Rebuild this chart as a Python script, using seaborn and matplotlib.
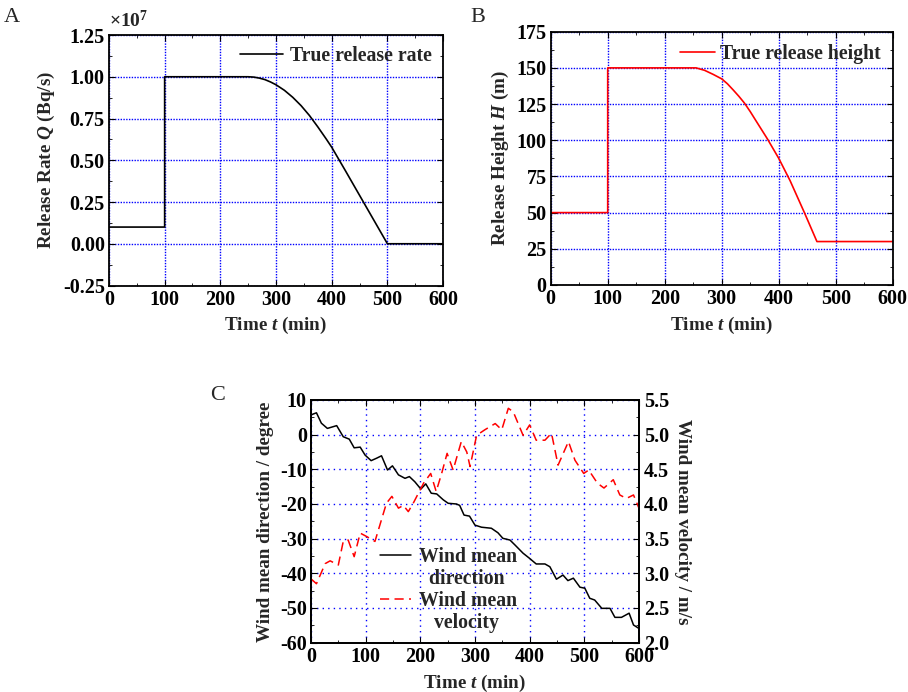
import pandas as pd
import matplotlib
matplotlib.use("Agg")
import matplotlib.pyplot as plt
from matplotlib.lines import Line2D
from matplotlib.ticker import MultipleLocator, FormatStrFormatter
import seaborn as sns

"""## Source term and wind data"""

# A: true release rate, in units of 1e7 Bq/s
rate_t = [0, 100, 100, 250, 260, 270, 280, 290, 300, 315, 330, 345, 360, 375, 390, 400, 425, 450, 475, 500, 600]
rate_q = [0.10, 0.10, 1.00, 1.00, 0.998, 0.992, 0.983, 0.969, 0.952, 0.919, 0.877, 0.827, 0.768, 0.700, 0.628,
          0.578, 0.435, 0.290, 0.145, 0.0, 0.0]

# B: true release height (m)
height_t = [0, 100, 100, 255, 270, 285, 300, 310, 320, 330, 340, 350, 360, 380, 400, 420, 445, 467, 600]
height_h = [50, 50, 150, 150, 148.3, 145.5, 142.4, 139.0, 134.8, 130.4, 125.6, 119.8, 113.5, 101.0, 87.5,
            72.0, 50.0, 30, 30]

# C: wind mean direction (degree) and wind mean velocity (m/s)
dir_t = [0, 10, 19, 30, 47, 59, 70, 79, 90, 99, 110, 120, 129, 140, 149, 160, 172, 180, 190, 201,
         210, 220, 230, 242, 251, 266, 272, 280, 290, 300, 312, 330, 342, 351, 364, 373, 388, 400, 412, 428,
         437, 449, 461, 470, 480, 492, 501, 510, 519, 532, 547, 556, 568, 582, 590, 600]
dir_deg = [5.7, 6.3, 3.3, 1.8, 2.6, -0.6, -1.3, -3.8, -3.6, -5.9, -7.5, -6.8, -6.1, -10.2, -9.0, -11.6, -12.6,
           -12.1, -13.6, -15.7, -14.2, -16.9, -17.1, -18.8, -19.8, -20.0, -20.4, -23.2, -23.5, -26.1, -26.7,
           -27.0, -28.3, -29.9, -30.4, -31.8, -34.2, -35.7, -37.3, -37.3, -38.1, -41.7, -40.5, -42.1, -41.4,
           -44.0, -44.3, -47.2, -47.7, -50.1, -50.1, -52.7, -52.7, -51.5, -54.9, -55.9]

vel_t = [0, 10, 26, 35, 50, 59, 68, 79, 90, 102, 117, 138, 148, 160, 169, 178, 187, 206, 219, 229,
         239, 249, 260, 275, 285, 291, 303, 318, 337, 349, 361, 370, 388, 400, 412, 428, 440, 452, 471, 483,
         499, 508, 524, 536, 553, 565, 577, 590, 600]
vel_ms = [2.92, 2.85, 3.14, 3.18, 3.12, 3.46, 3.48, 3.24, 3.58, 3.53, 3.46, 4.01, 4.11, 3.94, 3.98, 3.89,
          4.01, 4.30, 4.44, 4.18, 4.44, 4.73, 4.49, 4.90, 4.75, 4.54, 4.99, 5.07, 5.16, 5.07, 5.38, 5.33,
          4.99, 5.14, 4.92, 4.92, 5.02, 4.56, 4.90, 4.63, 4.44, 4.49, 4.30, 4.23, 4.35, 4.13, 4.08, 4.13, 3.94]

df_rate = pd.DataFrame({"t": rate_t, "q": rate_q})
df_height = pd.DataFrame({"t": height_t, "h": height_h})
df_dir = pd.DataFrame({"t": dir_t, "d": dir_deg})
df_vel = pd.DataFrame({"t": vel_t, "v": vel_ms})

sns.set_style("ticks")
plt.rcParams.update({
    "font.family": ["Liberation Serif", "DejaVu Serif"],
    "font.weight": "bold",
    "axes.labelweight": "bold",
    "axes.unicode_minus": False,
    "mathtext.fontset": "custom",
    "mathtext.rm": "Liberation Serif",
    "mathtext.it": "Liberation Serif:italic:bold",
    "mathtext.bf": "Liberation Serif:bold",
    "axes.linewidth": 1.3,
    "axes.edgecolor": "black",
    "xtick.direction": "in",
    "ytick.direction": "in",
    "xtick.major.size": 4.5,
    "ytick.major.size": 4.5,
    "xtick.minor.size": 2.5,
    "ytick.minor.size": 2.5,
    "xtick.color": "black",
    "ytick.color": "black",
})

TICK_FS = 14.5
LABEL_FS = 13.8
LEG_FS = 14.2


def style_axes(ax, xminor, ymajor, yminor, fmt, grid_ls):
    ax.set_xlim(0, 600)
    ax.xaxis.set_major_locator(MultipleLocator(100))
    ax.xaxis.set_minor_locator(MultipleLocator(xminor))
    ax.yaxis.set_major_locator(MultipleLocator(ymajor))
    ax.yaxis.set_minor_locator(MultipleLocator(yminor))
    ax.yaxis.set_major_formatter(FormatStrFormatter(fmt))
    ax.tick_params(which="both", top=True, right=True, labelsize=TICK_FS)
    ax.tick_params(which="major", pad=3)
    for lab in ax.get_xticklabels() + ax.get_yticklabels():
        lab.set_fontweight("bold")
    ax.grid(True, which="major", color="blue", linestyle=grid_ls, linewidth=1.0)
    ax.set_axisbelow(True)
    for s in ax.spines.values():
        s.set_visible(True)
        s.set_color("black")


fig = plt.figure(figsize=(9.08, 6.92), dpi=100)

# Panel A
axA = fig.add_axes([0.120, 0.5874, 0.368, 0.362])
sns.lineplot(data=df_rate, x="t", y="q", ax=axA, color="black", linewidth=1.2,
             estimator=None, sort=False, label="True release rate")
axA.set_ylim(-0.25, 1.25)
style_axes(axA, 50, 0.25, 0.125, "%.2f", (0, (1, 1)))
axA.set_xlabel("Time $t$ (min)", fontsize=LABEL_FS)
axA.set_ylabel("Release Rate $Q$ (Bq/s)", fontsize=LABEL_FS)
axA.legend(loc="upper right", frameon=False, handlelength=2.2, handletextpad=0.35,
           borderaxespad=0.15, prop={"weight": "bold", "size": LEG_FS})
axA.text(0.0, 1.015, r"$\times10^{7}$", transform=axA.transAxes, fontsize=14,
         fontweight="normal", ha="left", va="bottom")
fig.text(12 / 908, 1 - 18 / 692, "A", fontsize=16, fontweight="normal", ha="center", va="center")

# Panel B
axB = fig.add_axes([0.6065, 0.5882, 0.3767, 0.366])
sns.lineplot(data=df_height, x="t", y="h", ax=axB, color="red", linewidth=1.2,
             estimator=None, sort=False, label="True release height")
axB.set_ylim(0, 175)
style_axes(axB, 50, 25, 12.5, "%d", (0, (1, 1)))
axB.set_xlabel("Time $t$ (min)", fontsize=LABEL_FS)
axB.set_ylabel("Release Height $H$ (m)", fontsize=LABEL_FS)
axB.legend(loc="upper right", frameon=False, handlelength=1.8, handletextpad=0.25,
           borderaxespad=0.2, prop={"weight": "bold", "size": LEG_FS})
fig.text(478 / 908, 1 - 18 / 692, "B", fontsize=16, fontweight="normal", ha="center", va="center")

# Panel C
axC = fig.add_axes([0.3425, 0.0713, 0.3612, 0.3507])
sns.lineplot(data=df_dir, x="t", y="d", ax=axC, color="black", linewidth=1.1,
             estimator=None, sort=False, label="Wind mean direction")
axC.set_ylim(-60, 10)
style_axes(axC, 50, 10, 5, "%d", (0, (1, 3)))
axC.tick_params(which="both", right=False)
axC.set_xlabel("Time $t$ (min)", fontsize=LABEL_FS)
axC.set_ylabel("Wind mean direction / degree", fontsize=LABEL_FS)

axV = axC.twinx()
sns.lineplot(data=df_vel, x="t", y="v", ax=axV, color="red", linewidth=1.1,
             estimator=None, sort=False, linestyle=(0, (6, 3.5)), label="Wind mean velocity")
axV.set_ylim(2.0, 5.5)
axV.set_xlim(0, 600)
axV.yaxis.set_major_locator(MultipleLocator(0.5))
axV.yaxis.set_minor_locator(MultipleLocator(0.25))
axV.yaxis.set_major_formatter(FormatStrFormatter("%.1f"))
axV.tick_params(which="both", direction="in", labelsize=TICK_FS)
for lab in axV.get_yticklabels():
    lab.set_fontweight("bold")
axV.grid(False)
axV.set_ylabel("Wind mean velocity / m/s", fontsize=LABEL_FS, rotation=270, labelpad=16)

if axV.get_legend() is not None:
    axV.get_legend().remove()
if axC.get_legend() is not None:
    axC.get_legend().remove()

# two-line legend labels, with the handle beside the first line
h1 = axC.get_lines()[0]
h2 = axV.get_lines()[0]
blank = Line2D([], [], linestyle="none")
legC = axV.legend([h1, blank, h2, blank], ["Wind mean", "  direction", "Wind mean", "   velocity"],
                  loc="upper left", bbox_to_anchor=(0.21, 0.393), frameon=False,
                  handlelength=1.6, handletextpad=0.4, labelspacing=0.1, borderpad=0.0,
                  borderaxespad=0.0, prop={"weight": "bold", "size": LEG_FS})
fig.text(218 / 908, 1 - 395 / 692, "C", fontsize=16, fontweight="normal", ha="center", va="center")

fig.savefig("out.png", dpi=100)
